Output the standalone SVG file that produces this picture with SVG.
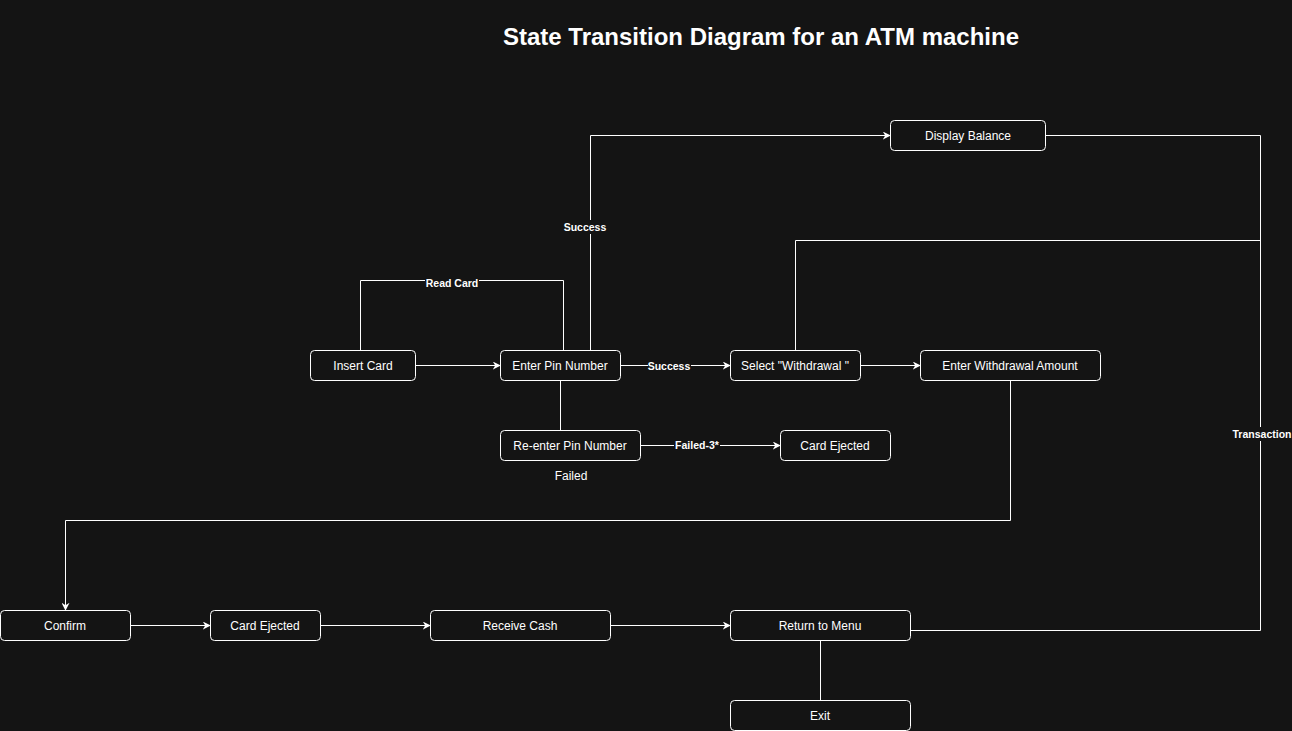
<svg xmlns="http://www.w3.org/2000/svg" width="1292" height="731" viewBox="0 0 1292 731">
<defs>
<marker id="arr" viewBox="0 0 10 10" refX="9" refY="5" markerWidth="8" markerHeight="8" markerUnits="userSpaceOnUse" orient="auto"><path d="M0,0 L10,5 L0,10 L3,5 Z" fill="#ffffff"/></marker>
<style>
.node rect{fill:#141414;stroke:#ffffff;stroke-width:1}
.node text,.lbl{font-family:"Liberation Sans",Arial,sans-serif;font-size:12px;fill:#ffffff;text-anchor:middle;dominant-baseline:central}
.lbl{font-size:10.5px;font-weight:bold}
.edge{fill:none;stroke:#ffffff;stroke-width:1}
.lbg{fill:#141414}
</style>
</defs>
<rect width="1292" height="731" fill="#141414"/>
<text x="761" y="36" font-family="Liberation Sans,Arial,sans-serif" font-size="24" font-weight="bold" fill="#ffffff" text-anchor="middle" dominant-baseline="central">State Transition Diagram for an ATM machine</text>
<g id="connectors">
<path class="edge" d="M415.5,365.5 H500" marker-end="url(#arr)"/>
<path class="edge" d="M360.5,350 V280.5 H563.5 V350"/>
<path class="edge" d="M590.5,350 V135.5 H890" marker-end="url(#arr)"/>
<path class="edge" d="M620,365.5 H730" marker-end="url(#arr)"/>
<path class="edge" d="M860,365.5 H920" marker-end="url(#arr)"/>
<path class="edge" d="M560.5,380 V430"/>
<path class="edge" d="M640,445.5 H780" marker-end="url(#arr)"/>
<path class="edge" d="M1010.5,380 V520.5 H65.5 V610" marker-end="url(#arr)"/>
<path class="edge" d="M130,625.5 H210" marker-end="url(#arr)"/>
<path class="edge" d="M320,625.5 H430" marker-end="url(#arr)"/>
<path class="edge" d="M610,625.5 H730" marker-end="url(#arr)"/>
<path class="edge" d="M820.5,640 V700"/>
<path class="edge" d="M910,630.5 H1260.5 V135.5 H1045"/>
<path class="edge" d="M1260.5,240.5 H795.5 V350"/>
<rect class="lbg" x="425" y="276" width="54" height="14"/>
<text class="lbl" x="452" y="283">Read Card</text>
<rect class="lbg" x="564" y="220" width="43" height="14"/>
<text class="lbl" x="585" y="227">Success</text>
<rect class="lbg" x="648" y="359" width="43" height="14"/>
<text class="lbl" x="669" y="366">Success</text>
<rect class="lbg" x="674" y="438" width="46" height="14"/>
<text class="lbl" x="697" y="445">Failed-3*</text>
<rect class="lbg" x="1234" y="427" width="58" height="14"/>
<text class="lbl" x="1262" y="434">Transaction</text>
<text x="571" y="476" font-family="Liberation Sans,Arial,sans-serif" font-size="12" fill="#ffffff" text-anchor="middle" dominant-baseline="central">Failed</text>
</g>
<g id="insert-card" class="node"><rect x="310.5" y="350.5" width="105" height="30" rx="4"/><text x="363" y="366">Insert Card</text></g>
<g id="enter-pin" class="node"><rect x="500.5" y="350.5" width="120" height="30" rx="4"/><text x="560" y="366">Enter Pin Number</text></g>
<g id="select-withdrawal" class="node"><rect x="730.5" y="350.5" width="130" height="30" rx="4"/><text x="795" y="366">Select "Withdrawal "</text></g>
<g id="enter-amount" class="node"><rect x="920.5" y="350.5" width="180" height="30" rx="4"/><text x="1010" y="366">Enter Withdrawal Amount</text></g>
<g id="display-balance" class="node"><rect x="890.5" y="120.5" width="155" height="30" rx="4"/><text x="968" y="136">Display Balance</text></g>
<g id="reenter-pin" class="node"><rect x="500.5" y="430.5" width="140" height="30" rx="4"/><text x="570" y="446">Re-enter Pin Number</text></g>
<g id="card-ejected-1" class="node"><rect x="780.5" y="430.5" width="110" height="30" rx="4"/><text x="835" y="446">Card Ejected</text></g>
<g id="confirm" class="node"><rect x="0.5" y="610.5" width="130" height="30" rx="4"/><text x="65" y="626">Confirm</text></g>
<g id="card-ejected-2" class="node"><rect x="210.5" y="610.5" width="110" height="30" rx="4"/><text x="265" y="626">Card Ejected</text></g>
<g id="receive-cash" class="node"><rect x="430.5" y="610.5" width="180" height="30" rx="4"/><text x="520" y="626">Receive Cash</text></g>
<g id="return-menu" class="node"><rect x="730.5" y="610.5" width="180" height="30" rx="4"/><text x="820" y="626">Return to Menu</text></g>
<g id="exit" class="node"><rect x="730.5" y="700.5" width="180" height="30" rx="4"/><text x="820" y="716">Exit</text></g>
</svg>
